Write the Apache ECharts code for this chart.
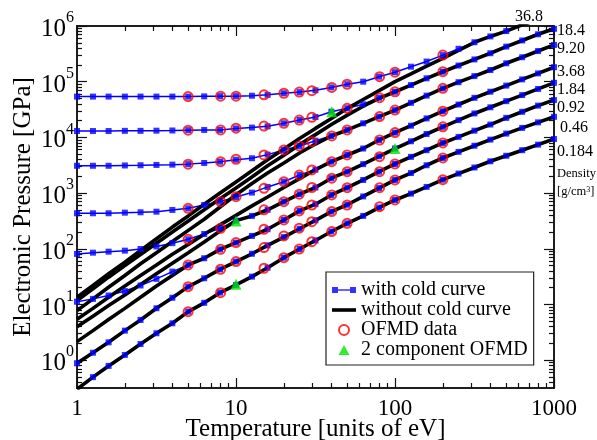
<!DOCTYPE html>
<html>
<head>
<meta charset="utf-8">
<script src="https://cdn.jsdelivr.net/npm/echarts@6/dist/echarts.min.js"></script>
<style>
  html, body { margin: 0; padding: 0; background: #fff; }
  #chart { width: 597px; height: 440px; }
</style>
</head>
<body>
<div id="chart"></div>
<script>
// temperatures of the tabulated points, ten per decade [eV]
const tempGrid = [1, 1.26, 1.58, 2, 2.51, 3.16, 3.98, 5.01, 6.31, 7.94, 10, 12.6, 15.8, 20, 25.1, 31.6,
  39.8, 50.1, 63.1, 79.4, 100, 126, 158, 200, 251, 316, 398, 501, 631, 794, 1000];
// temperatures of the OFMD runs [eV]
const ofmdTemps = [5, 8, 10, 15, 20, 25, 30, 40, 50, 80, 100, 200];
const densities = ['36.8', '18.4', '9.20', '3.68', '1.84', '0.92', '0.46', '0.184'];

// pressure with cold curve [GPa]
const cold_36_8 = [5.4e4, 5.4e4, 5.4e4, 5.4e4, 5.4e4, 5.4e4, 5.4e4, 5.4e4, 5.45e4, 5.5e4, 5.5e4, 5.6e4, 5.8e4, 6.2e4, 6.5e4, 7.0e4,
  7.9e4, 9.0e4, 1.0e5, 1.23e5, 1.48e5, 1.86e5, 2.3e5, 3.0e5, 3.9e5, 5.1e5, 6.5e5, 8.1e5, 1.05e6, 1.3e6, 1.7e6];
const cold_18_4 = [1.3e4, 1.3e4, 1.3e4, 1.31e4, 1.31e4, 1.32e4, 1.33e4, 1.35e4, 1.36e4, 1.36e4, 1.45e4, 1.5e4, 1.58e4, 1.79e4, 2.05e4, 2.32e4,
  2.89e4, 3.33e4, 3.93e4, 5.16e4, 6.6e4, 8.7e4, 1.15e5, 1.51e5, 1.95e5, 2.51e5, 3.24e5, 4.27e5, 5.5e5, 7.1e5, 8.9e5];
const cold_9_20 = [3090, 3090, 3090, 3130, 3160, 3200, 3240, 3310, 3470, 3660, 3980, 4220, 4900, 5940, 7010, 8710,
  1.06e4, 1.36e4, 1.79e4, 2.36e4, 3.09e4, 4.17e4, 5.62e4, 7.59e4, 9.8e4, 1.26e5, 1.62e5, 2.14e5, 2.75e5, 3.55e5, 4.57e5];
const cold_3_68 = [434, 434, 434, 445, 452, 463, 498, 533, 611, 701, 851, 1020, 1290, 1600, 2110, 2630,
  3660, 4830, 6310, 8970, 1.22e4, 1.62e4, 2.19e4, 2.95e4, 3.89e4, 5.13e4, 6.61e4, 8.51e4, 1.1e5, 1.41e5, 1.82e5];
const cold_1_84 = [80.7, 85.1, 88.7, 92.5, 99, 110, 126, 148, 184, 233, 320, 389, 501, 701, 955, 1260,
  1850, 2420, 3310, 4570, 6310, 8510, 1.15e4, 1.55e4, 2.04e4, 2.69e4, 3.47e4, 4.47e4, 5.75e4, 7.41e4, 9.55e4];
const cold_0_92 = [11.2, 12.6, 14.5, 17.4, 21.9, 28.8, 38.9, 51.3, 67.6, 97.7, 129, 170, 224, 329, 479, 631,
  925, 1250, 1720, 2420, 3330, 4470, 5890, 7940, 1.02e4, 1.32e4, 1.7e4, 2.24e4, 2.88e4, 3.72e4, 4.68e4];
const cold_0_46 = [0.88, 1.36, 2.09, 3.39, 5.27, 8.55, 13.2, 20.9, 29.5, 42.7, 58.9, 81.3, 115, 162, 229, 324,
  465, 617, 871, 1230, 1720, 2290, 3160, 4270, 5500, 7080, 9120, 1.17e4, 1.48e4, 1.86e4, 2.34e4];
const cold_0_184 = [0.30, 0.495, 0.787, 1.24, 1.95, 3.04, 4.59, 7.43, 10.7, 16.3, 22.4, 31.6, 45.7, 69.2, 99, 141,
  204, 286, 389, 550, 752, 977, 1290, 1740, 2240, 2880, 3720, 4680, 5890, 7410, 9330];

// pressure without cold curve [GPa]
const hot_36_8 = [13.5, 21.9, 35.5, 57.5, 93, 151, 245, 389, 631, 1000, 1585, 2510, 3980, 6170, 9550, 1.45e4,
  2.19e4, 3.31e4, 4.79e4, 6.9e4, 1.0e5, 1.38e5, 1.9e5, 2.63e5, 3.63e5, 5.1e5, 6.5e5, 8.1e5, 1.05e6, 1.3e6, 1.7e6];
const hot_18_4 = [11.7, 19.1, 30.9, 50, 79, 126, 200, 316, 501, 794, 1230, 1950, 3090, 4790, 7410, 1.12e4,
  1.7e4, 2.51e4, 3.63e4, 5.0e4, 6.6e4, 8.7e4, 1.15e5, 1.51e5, 1.95e5, 2.51e5, 3.24e5, 4.27e5, 5.5e5, 7.1e5, 8.9e5];
const hot_9_20 = [7.74, 12.6, 20.4, 33.1, 53.7, 85, 135, 214, 339, 562, 933, 1480, 2290, 3470, 5250, 7590,
  1.06e4, 1.36e4, 1.79e4, 2.36e4, 3.09e4, 4.17e4, 5.62e4, 7.59e4, 9.8e4, 1.26e5, 1.62e5, 2.14e5, 2.75e5, 3.55e5, 4.57e5];
const hot_3_68 = [5.42, 8.51, 13.5, 21.4, 33.1, 51.3, 79.4, 120, 182, 269, 398, 589, 851, 1260, 1820, 2630,
  3660, 4830, 6310, 8970, 1.22e4, 1.62e4, 2.19e4, 2.95e4, 3.89e4, 5.13e4, 6.61e4, 8.51e4, 1.1e5, 1.41e5, 1.82e5];
const hot_1_84 = [3.99, 6.17, 9.55, 14.8, 22.9, 35.5, 55, 85.1, 132, 209, 320, 389, 501, 701, 955, 1260,
  1850, 2420, 3310, 4570, 6310, 8510, 1.15e4, 1.55e4, 2.04e4, 2.69e4, 3.47e4, 4.47e4, 5.75e4, 7.41e4, 9.55e4];
const hot_0_92 = [2.15, 3.39, 5.37, 8.51, 13.5, 21.4, 33.1, 51.3, 67.6, 97.7, 129, 170, 224, 329, 479, 631,
  925, 1250, 1720, 2420, 3330, 4470, 5890, 7940, 1.02e4, 1.32e4, 1.7e4, 2.24e4, 2.88e4, 3.72e4, 4.68e4];
const hot_0_46 = cold_0_46;
const hot_0_184 = cold_0_184;

// OFMD data at ofmdTemps [GPa], null where the 2 component run is shown instead
const ofmd_36_8 = [5.4e4, 5.5e4, 5.5e4, 5.8e4, 6.2e4, 6.5e4, 6.9e4, 7.9e4, 9.0e4, 1.23e5, 1.48e5, 3.0e5];
const ofmd_18_4 = [1.35e4, 1.36e4, 1.46e4, 1.6e4, 1.79e4, 2.05e4, 2.29e4, null, 3.33e4, 5.16e4, 6.6e4, 1.51e5];
const ofmd_9_20 = [3310, 3660, 4050, 4830, 5940, 7010, 8380, 1.06e4, 1.36e4, 2.36e4, 3.09e4, 7.59e4];
const ofmd_3_68 = [533, 701, 863, 1220, 1600, 2110, 2600, 3660, 4830, 8970, 1.22e4, 2.95e4];
const ofmd_1_84 = [148, 233, null, 501, 701, 955, 1260, 1850, 2420, 4510, null, 1.55e4];
const ofmd_0_92 = [51.3, 97.7, 129, 224, 329, 479, 611, 925, 1250, 2420, 3330, 7940];
const ofmd_0_46 = [20.9, 42.9, 58.9, 105, 170, 234, 307, 465, 611, 1250, 1720, 4270];
const ofmd_0_184 = [7.43, 16.3, null, 44.7, 69.2, 99, 134, 204, 286, 570, 752, 1740];

// 2 component OFMD
const twoCompTemps = [10, 10, 40, 100];
const twoCompPress = [316, 23, 2.9e4, 6300];

// axis ticks (in decades)
const xDecades = [0, 1, 2, 3];
const yDecades = [0, 1, 2, 3, 4, 5, 6];

const coldSets = [cold_36_8, cold_18_4, cold_9_20, cold_3_68, cold_1_84, cold_0_92, cold_0_46, cold_0_184];
const hotSets = [hot_36_8, hot_18_4, hot_9_20, hot_3_68, hot_1_84, hot_0_92, hot_0_46, hot_0_184];
const ofmdSets = [ofmd_36_8, ofmd_18_4, ofmd_9_20, ofmd_3_68, ofmd_1_84, ofmd_0_92, ofmd_0_46, ofmd_0_184];

const FONT = '"Liberation Serif", "Times New Roman", serif';

function pairs(xs, ys) {
  const out = [];
  for (let i = 0; i < xs.length; i++) {
    if (ys[i] != null) out.push([xs[i], ys[i]]);
  }
  return out;
}

function minorTicks(from, to, lo) {
  const out = [];
  for (let d = from; d < to; d++) {
    for (let k = 2; k <= 9; k++) {
      const v = d + Math.log10(k);
      if (v > lo) out.push(v);
    }
  }
  return out;
}

// frame axes: value axes in decade units, only used for ticks, labels and the box
function frameAxis(position, min, max, ticks, len, label, name, gap) {
  const ax = {
    type: 'value', gridIndex: 0, position: position, min: min, max: max,
    axisLine: { show: true, onZero: false, lineStyle: { color: '#111', width: 1.5 } },
    axisTick: { show: true, inside: true, length: len, customValues: ticks, lineStyle: { color: '#111', width: 1.2 } },
    axisLabel: { show: false },
    splitLine: { show: false },
    silent: true
  };
  if (label) ax.axisLabel = label;
  if (name) {
    ax.name = name;
    ax.nameLocation = 'middle';
    ax.nameGap = gap;
    ax.nameMoveOverlap = false;
    ax.nameTextStyle = { fontFamily: FONT, fontSize: 25, color: '#000' };
  }
  return ax;
}

const chart = echarts.init(document.getElementById('chart'), null, { renderer: 'canvas' });

const series = [];
for (let i = 0; i < densities.length; i++) {
  series.push({
    type: 'line', name: 'cold line ' + densities[i], data: pairs(tempGrid, coldSets[i]),
    symbol: 'none', lineStyle: { color: '#0000ff', width: 1.5 }, itemStyle: { color: '#0000ff' },
    z: 2, silent: true
  });
}
for (let i = 0; i < densities.length; i++) {
  series.push({
    type: 'line', name: 'without cold curve', data: pairs(tempGrid, hotSets[i]),
    symbol: 'none', lineStyle: { color: '#000', width: 3.6 }, itemStyle: { color: '#000' },
    z: 3, silent: true
  });
}
for (let i = 0; i < densities.length; i++) {
  series.push({
    type: 'scatter', name: 'with cold curve', data: pairs(tempGrid, coldSets[i]),
    symbol: 'rect', symbolSize: 6, itemStyle: { color: '#0000ff' }, z: 4, silent: true
  });
}
for (let i = 0; i < densities.length; i++) {
  series.push({
    type: 'scatter', name: 'OFMD data', data: pairs(ofmdTemps, ofmdSets[i]),
    symbol: 'circle', symbolSize: 9,
    itemStyle: { color: 'rgba(255,255,255,0)', borderColor: '#ff0000', borderWidth: 2 },
    z: 5, silent: true
  });
}
series.push({
  type: 'scatter', name: '2 component OFMD', data: pairs(twoCompTemps, twoCompPress),
  symbol: 'triangle', symbolSize: 11, itemStyle: { color: '#00e600' }, z: 6, silent: true
});

const densityLabels = [
  { x: 515, y: 17 }, { x: 557, y: 31 }, { x: 557, y: 49 }, { x: 557, y: 72 },
  { x: 557, y: 90 }, { x: 557, y: 108 }, { x: 560, y: 128 }, { x: 557, y: 152 }
];
const graphic = densityLabels.map((p, i) => ({
  type: 'text', x: p.x, y: p.y,
  style: { text: densities[i], fontFamily: FONT, fontSize: 16, fill: '#000', verticalAlign: 'middle' }
}));
graphic.push({
  type: 'text', x: 557, y: 174,
  style: { text: 'Density', fontFamily: FONT, fontSize: 12.5, fill: '#000', verticalAlign: 'middle' }
});
graphic.push({
  type: 'text', x: 557, y: 192,
  style: {
    text: '{a|[g/cm}{s|3}{a|]}', verticalAlign: 'middle', fill: '#000',
    rich: {
      a: { fontFamily: FONT, fontSize: 12.5, verticalAlign: 'bottom' },
      s: { fontFamily: FONT, fontSize: 8, verticalAlign: 'top' }
    }
  }
});

const option = {
  animation: false,
  backgroundColor: '#fff',
  grid: { left: 77, top: 26, right: 43, bottom: 52, containLabel: false, outerBoundsMode: 'none' },
  xAxis: [
    { type: 'log', logBase: 10, min: 1, max: 1000, show: false, gridIndex: 0 },
    frameAxis('bottom', 0, 3, xDecades, 10, {
      show: true, customValues: xDecades, margin: 9,
      fontFamily: FONT, fontSize: 23, color: '#000',
      formatter: v => String(Math.round(Math.pow(10, v)))
    }, 'Temperature [units of eV]', 29),
    frameAxis('bottom', 0, 3, minorTicks(0, 3, -1), 5),
    frameAxis('top', 0, 3, xDecades, 10),
    frameAxis('top', 0, 3, minorTicks(0, 3, -1), 5)
  ],
  yAxis: [
    { type: 'log', logBase: 10, min: 0.3162, max: 1e6, show: false, gridIndex: 0 },
    frameAxis('left', -0.5, 6, yDecades, 10, {
      show: true, customValues: yDecades, margin: 3,
      formatter: v => '{b|10}{s|' + v + '}',
      rich: {
        b: { fontFamily: FONT, fontSize: 25, color: '#000', verticalAlign: 'bottom', padding: [7, 0, 0, 0] },
        s: { fontFamily: FONT, fontSize: 16, color: '#000', verticalAlign: 'top' }
      }
    }, 'Electronic Pressure [GPa]', 41),
    frameAxis('left', -0.5, 6, minorTicks(-1, 6, -0.5), 5),
    frameAxis('right', -0.5, 6, yDecades, 10),
    frameAxis('right', -0.5, 6, minorTicks(-1, 6, -0.5), 5)
  ],
  legend: {
    left: 326, top: 272, orient: 'vertical',
    padding: [8, 6, 5, 6], itemGap: 0,
    itemWidth: 24, itemHeight: 10,
    backgroundColor: '#fff', borderColor: '#222', borderWidth: 1.2, borderRadius: 0,
    textStyle: { fontFamily: FONT, fontSize: 20, color: '#000', lineHeight: 18.5 },
    selectedMode: false,
    data: [
      { name: 'with cold curve', icon: 'path://M0,0h6v6h-6zM6,2.3h12v1.5h-12zM18,0h6v6h-6z' },
      { name: 'without cold curve', icon: 'path://M0,0h24v3.6h-24z' },
      { name: 'OFMD data', icon: 'circle', itemStyle: { color: '#fff', borderColor: '#ff0000', borderWidth: 2 } },
      { name: '2 component OFMD', icon: 'path://M5,0L10,9L0,9z' }
    ]
  },
  graphic: graphic,
  series: series
};

chart.setOption(option);
</script>
</body>
</html>
